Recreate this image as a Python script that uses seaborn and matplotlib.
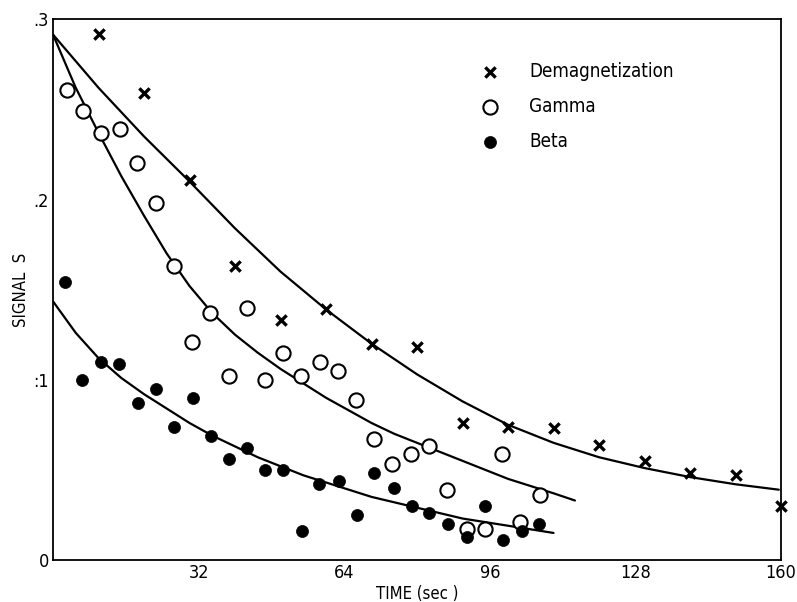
import matplotlib
matplotlib.use("Agg")
import matplotlib.pyplot as plt
import seaborn as sns
import pandas as pd
import numpy as np

# ---------------- data ----------------
demag_t = [10, 20, 30, 40, 50, 60, 70, 80, 90, 100, 110, 120, 130, 140, 150, 160]
demag_s = [0.292, 0.259, 0.211, 0.163, 0.133, 0.139, 0.120, 0.118, 0.076, 0.074,
           0.073, 0.064, 0.055, 0.048, 0.047, 0.030]

gamma_t = [3.1, 6.6, 10.5, 14.7, 18.5, 22.6, 26.6, 30.5, 34.5, 38.7, 42.6, 46.6, 50.5,
           54.5, 58.7, 62.6, 66.6, 70.5, 74.5, 78.7, 82.6, 86.6, 91.0, 94.9, 98.7,
           102.6, 107.0]
gamma_s = [0.261, 0.249, 0.237, 0.239, 0.220, 0.198, 0.163, 0.121, 0.137, 0.102, 0.140,
           0.100, 0.115, 0.102, 0.110, 0.105, 0.089, 0.067, 0.053, 0.059, 0.063, 0.039,
           0.017, 0.017, 0.059, 0.021, 0.036]

beta_t = [2.6, 6.4, 10.5, 14.5, 18.7, 22.6, 26.6, 30.8, 34.7, 38.7, 42.6, 46.6, 50.5,
          54.7, 58.5, 62.9, 66.8, 70.5, 74.9, 78.9, 82.6, 86.8, 91.0, 94.9, 98.9,
          103.1, 106.8]
beta_s = [0.154, 0.100, 0.110, 0.109, 0.087, 0.095, 0.074, 0.090, 0.069, 0.056, 0.062,
          0.050, 0.050, 0.016, 0.042, 0.044, 0.025, 0.048, 0.040, 0.030, 0.026, 0.020,
          0.013, 0.030, 0.011, 0.016, 0.020]

# fitted curves
demag_curve_t = [0, 10, 20, 30, 40, 50, 60, 70, 80, 90, 100, 110, 120, 130, 140, 150, 159.5]
demag_curve_s = [0.2915, 0.262, 0.235, 0.210, 0.184, 0.160, 0.139, 0.120, 0.103, 0.088,
                 0.075, 0.065, 0.057, 0.051, 0.046, 0.042, 0.039]

gamma_curve_t = [0, 5, 10, 15, 20, 25, 30, 35, 40, 45, 50, 55, 60, 65, 70, 75, 80, 85,
                 90, 95, 100, 105, 110, 114.7]
gamma_curve_s = [0.2915, 0.262, 0.237, 0.213, 0.191, 0.170, 0.152, 0.137, 0.125, 0.115,
                 0.106, 0.098, 0.090, 0.083, 0.076, 0.070, 0.065, 0.060, 0.055, 0.050,
                 0.045, 0.041, 0.037, 0.033]

beta_curve_t = [0, 5, 10, 15, 20, 25, 30, 35, 40, 45, 50, 55, 60, 65, 70, 75, 80, 85,
                90, 95, 100, 105, 110]
beta_curve_s = [0.1435, 0.126, 0.112, 0.101, 0.092, 0.084, 0.076, 0.069, 0.063, 0.057,
                0.052, 0.047, 0.043, 0.039, 0.035, 0.032, 0.029, 0.026, 0.023, 0.021,
                0.019, 0.017, 0.015]

x_ticks = [32, 64, 96, 128, 160]
x_tick_labels = ["32", "64", "96", "128", "160"]
y_ticks = [0, 0.1, 0.2, 0.3]
y_tick_labels = ["0", ":1", ".2", ".3"]

# ---------------- plotting ----------------
sns.set_style("white")
plt.rcParams["font.family"] = ["DejaVu Sans"]
plt.rcParams["font.stretch"] = "condensed"
plt.rcParams["text.color"] = "black"
plt.rcParams["axes.labelcolor"] = "black"
plt.rcParams["xtick.color"] = "black"
plt.rcParams["ytick.color"] = "black"

fig = plt.figure(figsize=(7.97, 6.02), dpi=100)
ax = fig.add_axes([0.0665, 0.0698, 0.9135, 0.8982])

curves = [(demag_curve_t, demag_curve_s), (gamma_curve_t, gamma_curve_s),
          (beta_curve_t, beta_curve_s)]
for ct, cs in curves:
    sns.lineplot(x=ct, y=cs, ax=ax, color="black", linewidth=1.6, zorder=2)

dfd = pd.DataFrame({"t": demag_t, "s": demag_s})
dfg = pd.DataFrame({"t": gamma_t, "s": gamma_s})
dfb = pd.DataFrame({"t": beta_t, "s": beta_s})

sns.scatterplot(data=dfd, x="t", y="s", ax=ax, marker="x", s=55, color="black",
                linewidth=2.4, label="Demagnetization", zorder=4, clip_on=False)
sns.scatterplot(data=dfg, x="t", y="s", ax=ax, marker="o", s=105, facecolor="white",
                edgecolor="black", linewidth=1.5, label="Gamma", zorder=3)
sns.scatterplot(data=dfb, x="t", y="s", ax=ax, marker="o", s=75, color="black",
                edgecolor="black", linewidth=0.5, label="Beta", zorder=3)

ax.set_xlim(0, 160)
ax.set_ylim(0, 0.3)
ax.set_xticks(x_ticks)
ax.set_xticklabels(x_tick_labels)
ax.set_yticks(y_ticks)
ax.set_yticklabels(y_tick_labels)
ax.tick_params(direction="in", length=9.5, width=1.2, labelsize=13)
ax.tick_params(axis="x", pad=3)
ax.tick_params(axis="y", pad=3)
for sp in ax.spines.values():
    sp.set_visible(True)
    sp.set_color("black")
    sp.set_linewidth(1.3)

ax.set_xlabel("TIME (sec )", fontsize=12, labelpad=2)
ax.set_ylabel("SIGNAL  S", fontsize=12, labelpad=2)

leg = ax.legend(loc="upper left", bbox_to_anchor=(0.587, 0.921), frameon=False,
                fontsize=13.5, handlelength=1.0, handletextpad=1.6, labelspacing=0.85,
                borderpad=0, borderaxespad=0, labelcolor="black")

fig.savefig("out.png", dpi=100, facecolor="white")
